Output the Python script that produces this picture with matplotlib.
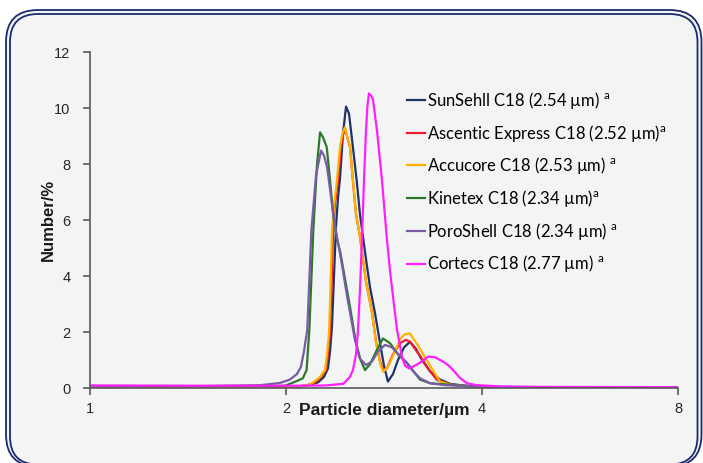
import numpy as np
import matplotlib
matplotlib.use('Agg')
import matplotlib.pyplot as plt
from matplotlib.patches import FancyBboxPatch
from matplotlib.ticker import NullLocator

# particle diameter (um) vs number (%)
sunshell_d = [1.0, 1.5, 1.9, 2.10, 2.177, 2.24, 2.288, 2.320, 2.337, 2.353, 2.370, 2.387, 2.404,
              2.421, 2.447, 2.473, 2.499, 2.534, 2.571, 2.598, 2.626, 2.654, 2.692, 2.740, 2.789,
              2.828, 2.868, 2.920, 2.972, 3.036, 3.101, 3.167, 3.235, 3.328, 3.448, 3.572, 3.766,
              4.114, 5.0, 8.0]
sunshell_n = [0.06, 0.05, 0.05, 0.05, 0.12, 0.2, 0.4, 0.7, 1.3, 2.2, 4.0, 5.8, 6.8,
              7.5, 9.1, 10.05, 9.8, 8.6, 7.3, 6.2, 5.4, 4.6, 3.6, 2.67, 1.6,
              0.8, 0.23, 0.5, 1.0, 1.45, 1.65, 1.4, 1.0, 0.6, 0.3, 0.15, 0.08,
              0.03, 0.02, 0.02]

ascentis_d = [1.0, 1.5, 1.9, 2.10, 2.177, 2.216, 2.264, 2.304, 2.320, 2.337, 2.349, 2.362, 2.378,
              2.404, 2.429, 2.447, 2.464, 2.481, 2.508, 2.534, 2.562, 2.598, 2.626, 2.654, 2.711,
              2.750, 2.789, 2.818, 2.858, 2.920, 2.993, 3.057, 3.101, 3.212, 3.328, 3.411, 3.572,
              3.766, 4.114, 5.0, 8.0]
ascentis_n = [0.06, 0.05, 0.05, 0.06, 0.12, 0.2, 0.4, 0.64, 1.2, 2.0, 3.5, 5.6, 6.6,
              7.4, 8.6, 9.05, 9.25, 9.0, 8.6, 7.4, 6.2, 5.4, 4.6, 3.8, 2.7,
              1.65, 0.95, 0.64, 0.7, 1.2, 1.6, 1.72, 1.65, 1.15, 0.6, 0.29, 0.12,
              0.07, 0.03, 0.02, 0.02]

accucore_d = [1.0, 1.5, 1.9, 2.10, 2.177, 2.201, 2.256, 2.296, 2.312, 2.329, 2.341, 2.353, 2.370,
              2.395, 2.421, 2.442, 2.464, 2.481, 2.508, 2.534, 2.562, 2.598, 2.626, 2.654, 2.711,
              2.750, 2.789, 2.818, 2.868, 2.940, 2.993, 3.046, 3.101, 3.212, 3.328, 3.448, 3.572,
              3.766, 4.114, 5.0, 8.0]
accucore_n = [0.06, 0.05, 0.05, 0.06, 0.13, 0.2, 0.4, 0.64, 1.2, 2.0, 3.6, 5.6, 6.5,
              7.43, 8.62, 9.1, 9.31, 9.0, 8.62, 7.43, 6.24, 5.4, 4.6, 3.8, 2.67,
              1.6, 0.9, 0.58, 0.75, 1.3, 1.75, 1.92, 1.95, 1.4, 0.8, 0.23, 0.12,
              0.07, 0.03, 0.02, 0.02]

kinetex_d = [1.0, 1.5, 1.9, 1.993, 2.028, 2.079, 2.123, 2.151, 2.172, 2.203, 2.232, 2.256, 2.280,
             2.310, 2.337, 2.362, 2.395, 2.421, 2.464, 2.508, 2.553, 2.598, 2.645, 2.692, 2.750,
             2.818, 2.889, 2.972, 3.068, 3.101, 3.212, 3.328, 3.700, 4.114, 8.0]
kinetex_n = [0.07, 0.06, 0.07, 0.08, 0.15, 0.25, 0.35, 0.64, 2.07, 5.64, 8.0, 9.13, 8.95,
             8.6, 7.43, 6.24, 5.29, 4.9, 3.9, 2.9, 1.8, 1.05, 0.64, 0.85, 1.3,
             1.77, 1.6, 1.2, 0.89, 0.76, 0.3, 0.17, 0.09, 0.03, 0.02]

poroshell_d = [1.0, 1.5, 1.824, 1.958, 2.028, 2.079, 2.108, 2.131, 2.156, 2.188, 2.224, 2.264,
               2.288, 2.312, 2.337, 2.370, 2.404, 2.442, 2.481, 2.517, 2.553, 2.598, 2.654, 2.711,
               2.769, 2.838, 2.909, 2.993, 3.068, 3.134, 3.212, 3.328, 3.510, 3.700, 4.114, 8.0]
poroshell_n = [0.07, 0.07, 0.1, 0.18, 0.3, 0.5, 0.75, 1.3, 2.07, 5.64, 7.6, 8.48,
               8.3, 7.9, 7.1, 6.0, 5.2, 4.3, 3.3, 2.5, 1.7, 1.05, 0.82, 0.95,
               1.3, 1.54, 1.45, 1.15, 0.9, 0.6, 0.35, 0.17, 0.1, 0.08, 0.03, 0.02]

cortecs_d = [1.0, 1.5, 2.0, 2.3, 2.45, 2.508, 2.534, 2.562, 2.580, 2.598, 2.617, 2.635, 2.654,
             2.668, 2.682, 2.701, 2.721, 2.759, 2.808, 2.858, 2.889, 2.920, 2.961, 3.014, 3.046,
             3.090, 3.156, 3.235, 3.304, 3.387, 3.448, 3.510, 3.572, 3.636, 3.700, 3.793, 3.930,
             4.262, 4.911, 8.0]
cortecs_n = [0.09, 0.08, 0.08, 0.09, 0.15, 0.4, 0.64, 1.2, 2.07, 3.5, 5.4, 7.4, 9.2,
             10.1, 10.52, 10.45, 10.29, 9.2, 7.43, 5.29, 4.2, 3.26, 2.1, 1.12, 0.8,
             0.7, 0.8, 0.95, 1.12, 1.1, 1.0, 0.9, 0.76, 0.56, 0.36, 0.17, 0.1,
             0.06, 0.04, 0.03]

labels = ["SunSehll C18 (2.54 \u00b5m) $^{\\mathrm{a}}$",
          "Ascentic Express C18 (2.52 \u00b5m)$^{\\mathrm{a}}$",
          "Accucore C18 (2.53 \u00b5m) $^{\\mathrm{a}}$",
          "Kinetex C18 (2.34 \u00b5m)$^{\\mathrm{a}}$",
          "PoroShell C18 (2.34 \u00b5m) $^{\\mathrm{a}}$",
          "Cortecs C18 (2.77 \u00b5m) $^{\\mathrm{a}}$"]
colors = ['#1f3366', '#ee1c2e', '#ffb300', '#2a7a2a', '#7b5ba6', '#ff1eff']
series = [(sunshell_d, sunshell_n), (ascentis_d, ascentis_n), (accucore_d, accucore_n),
          (kinetex_d, kinetex_n), (poroshell_d, poroshell_n), (cortecs_d, cortecs_n)]

plt.rcParams['font.family'] = ['Liberation Sans', 'DejaVu Sans']
plt.rcParams['mathtext.fontset'] = 'custom'
plt.rcParams['mathtext.rm'] = 'Lato'

fig = plt.figure(figsize=(7.03, 4.63), dpi=100, facecolor='white')

# rounded double frame behind everything (both filled, so the bottom edge clips cleanly)
bg = fig.add_axes([0, 0, 1, 1], zorder=-1)
bg.set_xlim(0, 703)
bg.set_ylim(463, 0)
bg.axis('off')
frame = '#1c2b6e'
panel = '#f3f5f5'
bg.add_patch(FancyBboxPatch((6, 10), 695.5, 456.5, boxstyle='round,pad=0,rounding_size=32',
                            fc=panel, ec=frame, lw=1.3))
bg.add_patch(FancyBboxPatch((10, 14), 687.5, 450.5, boxstyle='round,pad=0,rounding_size=28',
                            fc=panel, ec=frame, lw=1.3))

ax = fig.add_axes([90 / 703, 1 - 388 / 463, 588 / 703, 336 / 463])
ax.patch.set_alpha(0)

for (d, n), c, lab in zip(series, colors, labels):
    ax.plot(d, n, color=c, lw=1.6, label=lab)

ax.set_xscale('log', base=2)
ax.set_xlim(1, 8)
ax.set_ylim(0, 12)
ax.set_xticks([1, 2, 4, 8])
ax.set_xticklabels(['1', '2', '4', '8'])
ax.xaxis.set_minor_locator(NullLocator())
ax.set_yticks(range(0, 13, 2))

for s in ['top', 'right']:
    ax.spines[s].set_visible(False)
for s in ['left', 'bottom']:
    ax.spines[s].set_color('#595959')
    ax.spines[s].set_linewidth(1.2)
ax.tick_params(axis='both', colors='#595959', labelcolor='#262626', labelsize=10.5, width=1.2)
ax.tick_params(axis='y', length=5, pad=9)
ax.tick_params(axis='x', length=5, pad=5)

ax.set_xlabel('Particle diameter/\u00b5m', fontsize=12.5, fontweight='bold', color='#1a1a1a')
ax.xaxis.set_label_coords(0.5, -0.046)
ax.set_ylabel('Number/%', fontsize=12, fontweight='bold', color='#1a1a1a')
ax.yaxis.set_label_coords(-0.058, 0.5)

ax.legend(loc='upper left', bbox_to_anchor=(407 / 703, 1 - 90 / 463), bbox_transform=fig.transFigure,
          frameon=False, prop={'family': 'Lato', 'size': 12}, handlelength=1.1,
          handletextpad=0.12, labelspacing=0.7, borderpad=0, borderaxespad=0)

plt.savefig('out.png', dpi=100, facecolor=fig.get_facecolor())
